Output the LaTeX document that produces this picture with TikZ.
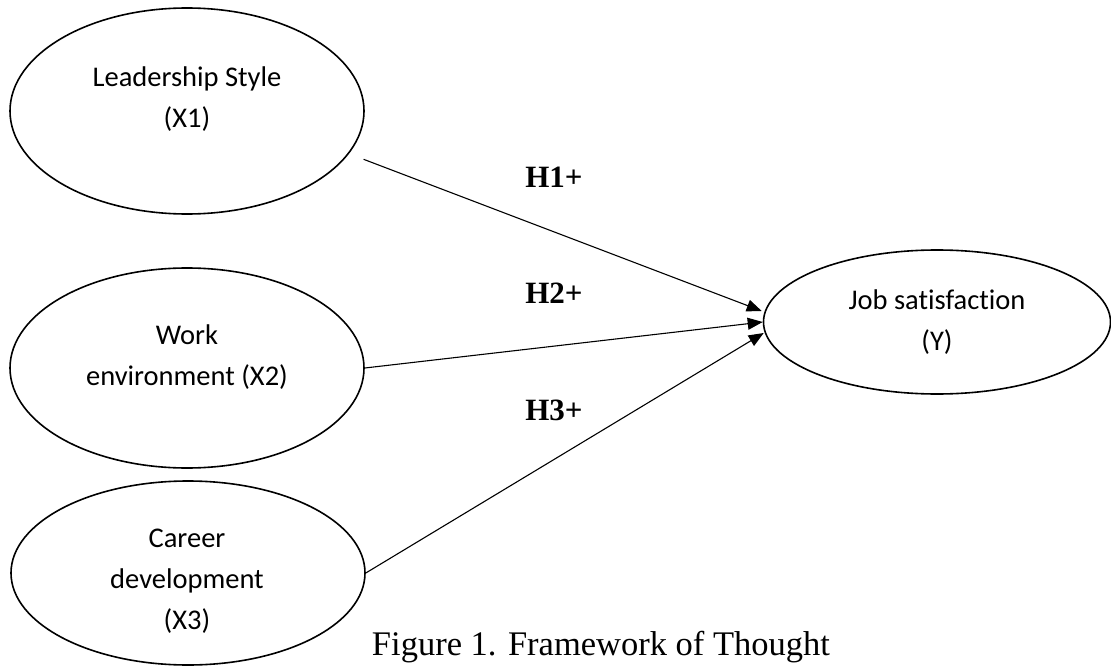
\documentclass[tikz,border=0pt]{standalone}
\usepackage{fontspec}
\setmainfont{Liberation Serif}
\newfontfamily\calib[Ligatures=NoCommon]{Carlito}
\usetikzlibrary{shapes.geometric,arrows.meta}
\tikzset{
  ell/.style={draw=black,line width=1.6pt,ellipse,inner sep=0pt,fill=none},
  lbl/.style={align=center,font=\calib\fontsize{28.5}{41}\selectfont,inner sep=0pt},
  hyp/.style={font=\bfseries\fontsize{31}{36}\selectfont,inner sep=0pt},
  arr/.style={draw=black,line width=1.1pt,-{Triangle[length=15pt,width=12pt]}},
  figcap/.style={font=\fontsize{34.5}{40}\selectfont,inner sep=0pt,anchor=base}
}
\begin{document}
\begin{tikzpicture}[x=1pt,y=-1pt]
\useasboundingbox (0,0) rectangle (1111,666);
% ellipses
\node[ell,minimum width=354pt,minimum height=206pt] (x1) at (187,111) {};
\node[ell,minimum width=354pt,minimum height=200pt] (x2) at (187,368) {};
\node[ell,minimum width=354pt,minimum height=184pt] (x3) at (188,573) {};
\node[ell,minimum width=347pt,minimum height=144pt] (y) at (937,322) {};
% texts
\node[lbl] (x1t) at (187,99) {Leadership Style\\(X1)};
\node[lbl] (x2t) at (187,357) {Work\\environment (X2)};
\node[lbl] (x3t) at (187,581) {Career\\development\\(X3)};
\node[lbl] (yt) at (937,322) {Job satisfaction\\(Y)};
% hypotheses
\node[hyp] (h1) at (554,177) {H1+};
\node[hyp] (h2) at (554,293) {H2+};
\node[hyp] (h3) at (554,410) {H3+};
% arrows
\draw[arr] ([xshift=15pt,yshift=-5pt]x1.-15) -- ([xshift=-1pt,yshift=11pt]y.west);
\draw[arr] (x2.east) -- ([xshift=0pt]y.west);
\draw[arr] (x3.east) -- ([xshift=1pt,yshift=-11pt]y.west);
% caption
\node[figcap] (caption) at (601,655) {Figure 1. Framework of Thought};
\end{tikzpicture}
\end{document}
